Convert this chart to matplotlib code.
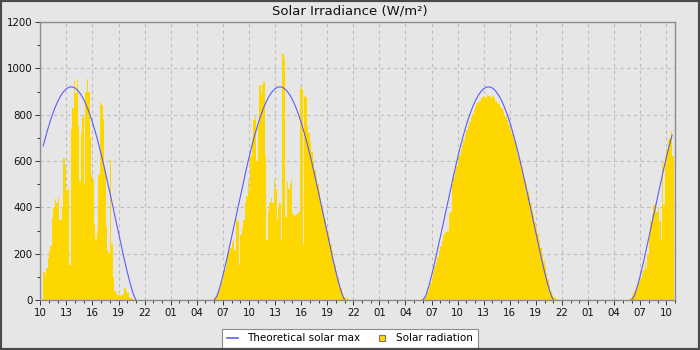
import numpy as np
import pandas as pd
import matplotlib
matplotlib.use("Agg")
import matplotlib.pyplot as plt
import matplotlib.dates as mdates
from matplotlib.lines import Line2D
from matplotlib.patches import Rectangle
from matplotlib.ticker import MultipleLocator

# ---------------- data ----------------
title = "Solar Irradiance (W/m²)"
series_names = ["Theoretical solar max", "Solar radiation"]
base_day = "2024-06-01"
view_start = "10:00"          # day 0
view_end_day, view_end = 3, "11:00"

# solar radiation, 10-minute values, one list per day (start time given)
rad_day0_start = "10:20"
rad_day0 = [120, 108, 137, 180, 210, 235, 352, 395, 435, 420, 440, 345, 345, 400,
            612, 580, 475, 480, 150, 740, 830, 945, 895, 955, 750, 515, 720, 790,
            500, 900, 955, 900, 705, 540, 520, 330, 265, 300, 540, 855, 840, 780,
            560, 320, 215, 205, 610, 240, 100, 40, 30, 20, 20, 18, 20, 25, 50, 40,
            30, 15, 10, 5, 3, 2]
rad_day1_start = "06:00"
rad_day1 = [10, 20, 30, 45, 55, 80, 110, 130, 150, 200, 210, 225, 250, 260, 215,
            350, 340, 150, 280, 310, 345, 420, 450, 520, 470, 620, 700, 775, 790,
            600, 750, 930, 890, 930, 940, 620, 260, 380, 420, 440, 420, 520, 480,
            350, 400, 420, 260, 1060, 1040, 360, 510, 480, 500, 520, 370, 360, 365,
            370, 380, 920, 910, 240, 880, 875, 750, 720, 680, 640, 600, 560, 530,
            500, 470, 440, 410, 380, 350, 320, 300, 270, 240, 210, 180, 150, 125,
            100, 75, 50, 30, 15, 10, 8, 5]
rad_day2_start = "05:50"
rad_day2 = [5, 10, 15, 20, 35, 55, 75, 100, 120, 145, 165, 185, 210, 235, 255, 280,
            295, 295, 300, 375, 380, 500, 530, 555, 580, 600, 625, 650, 670, 690,
            715, 735, 750, 770, 790, 805, 820, 835, 850, 855, 860, 870, 875, 880,
            870, 885, 880, 875, 870, 880, 870, 860, 850, 845, 835, 830, 815, 800,
            790, 775, 755, 740, 720, 700, 680, 660, 635, 615, 590, 570, 545, 520,
            500, 470, 445, 420, 390, 365, 335, 310, 285, 255, 225, 200, 170, 145,
            115, 90, 60, 40, 20, 12, 8, 4]
rad_day3_start = "05:40"
rad_day3 = [5, 10, 20, 30, 40, 55, 70, 80, 95, 115, 130, 160, 140, 200, 300, 340,
            370, 410, 420, 380, 400, 340, 260, 600, 410, 620, 650, 690, 700, 730, 620]

# theoretical clear-sky maximum, 20-minute values 06:00 .. 21:00 (same each day)
max_start = "06:00"
max_vals = [0, 18, 58, 105, 157, 213, 271, 329, 388, 447, 505, 560, 614, 665, 712,
            755, 794, 828, 857, 881, 899, 912, 919, 920, 915, 904, 887, 865, 837,
            805, 767, 725, 679, 629, 577, 521, 464, 406, 346, 288, 230, 174, 121,
            72, 29, 0]
max_day_first = "10:20"   # curve shown from here on day 0
max_day_last = "10:40"    # curve shown up to here on day 3

y_ticks = [0, 200, 400, 600, 800, 1000, 1200]

# ---------------- helpers ----------------
base = pd.Timestamp(base_day)


def at(day, hhmm):
    return base + pd.Timedelta(days=day) + pd.to_timedelta(hhmm + ":00")


def times_for(day, start, n, step_min):
    return at(day, start) + pd.to_timedelta(np.arange(n) * step_min, unit="min")


rad_days = [(0, rad_day0_start, rad_day0), (1, rad_day1_start, rad_day1),
            (2, rad_day2_start, rad_day2), (3, rad_day3_start, rad_day3)]

# ---------------- figure ----------------
W, H = 700, 350
fig = plt.figure(figsize=(7, 3.5), dpi=100)
bg = "#e6e6e6"
fig.patch.set_facecolor(bg)
fig.patches.append(Rectangle((0, 0), 1, 1, transform=fig.transFigure, fill=False,
                             edgecolor="#4a4a4a", linewidth=3, zorder=10))

ax = fig.add_axes([40.3 / W, 50 / H, (675 - 40.3) / W, 278 / H])
ax.set_facecolor(bg)

gold = "#FFD700"
blue = "#5c5cff"

for day, start, vals in rad_days:
    t = times_for(day, start, len(vals), 10)
    x = mdates.date2num(t.to_pydatetime())
    ax.bar(x, vals, width=10 / 1440, align="edge", color=gold, linewidth=0,
           antialiased=False, zorder=2)

xs, ys = [], []
mt_all_cnt = len(max_vals)
for day in range(4):
    t = times_for(day, max_start, mt_all_cnt, 20)
    v = np.array(max_vals, dtype=float)
    mask = np.ones(len(t), dtype=bool)
    if day == 0:
        mask = t >= at(0, max_day_first)
    if day == 3:
        mask = t <= at(3, max_day_last)
    xs.extend(list(mdates.date2num(t[mask].to_pydatetime())))
    ys.extend(list(v[mask]))
    xs.append(np.nan)
    ys.append(np.nan)
ax.plot(xs, ys, color=blue, linewidth=0.8, zorder=3)

ax.set_xlim(mdates.date2num(at(0, view_start).to_pydatetime()),
            mdates.date2num(at(view_end_day, view_end).to_pydatetime()))
ax.set_ylim(0, 1200)
ax.set_yticks(y_ticks)
ax.yaxis.set_minor_locator(MultipleLocator(100))
ax.xaxis.set_major_locator(mdates.HourLocator(byhour=[1, 4, 7, 10, 13, 16, 19, 22]))
ax.xaxis.set_minor_locator(mdates.HourLocator(byhour=range(24)))
ax.xaxis.set_major_formatter(mdates.DateFormatter("%H"))

ax.set_axisbelow(True)
ax.grid(True, which="major", color="#bdbdbd", linestyle=(0, (3, 3)), linewidth=0.8)
for s in ax.spines.values():
    s.set_color("#8c8c8c")
    s.set_linewidth(1.0)
ax.tick_params(which="major", length=3.6, width=0.7, color="#333333",
               labelsize=7.4, labelcolor="#111111", pad=2)
ax.tick_params(which="minor", length=2.2, width=0.7, color="#333333")

fig.text(0.5, 1 - 11 / H, title, ha="center", va="center", fontsize=9.5,
         color="#111111")

handles = [Line2D([], [], color=blue, linewidth=1.2),
           Line2D([], [], linestyle="none", marker="s", markersize=5,
                  markerfacecolor=gold, markeredgecolor="#777777",
                  markeredgewidth=0.8)]
leg = fig.legend(handles, series_names, loc="lower center", bbox_to_anchor=(0.5, 0.0),
                 ncol=2, fontsize=7.5, frameon=True, fancybox=False,
                 handlelength=1.1, handletextpad=0.8, columnspacing=1.6,
                 borderpad=0.45, borderaxespad=0.2)
leg.get_frame().set_edgecolor("#8c8c8c")
leg.get_frame().set_facecolor("white")
leg.get_frame().set_linewidth(0.8)
leg.get_frame().set_alpha(1)

fig.savefig("out.png", dpi=100, facecolor=bg)
